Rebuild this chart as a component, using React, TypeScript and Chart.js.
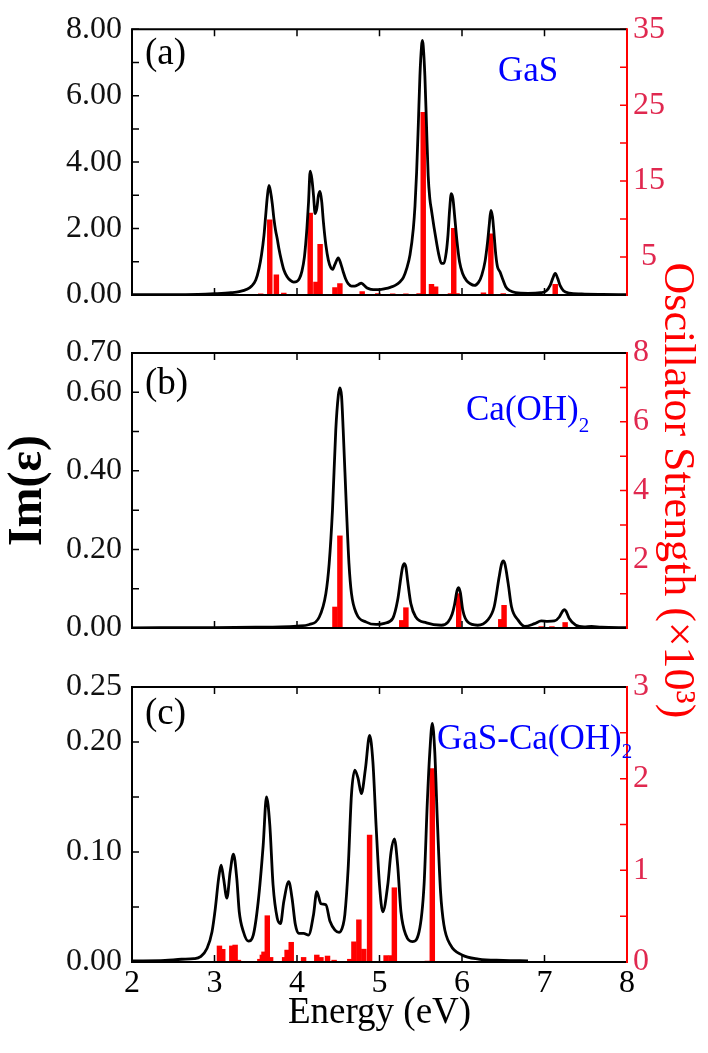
import React, { useEffect, useRef } from 'react';
import { Chart, registerables } from 'chart.js';

Chart.register(...registerables);

const FONT = '"Liberation Serif", "Times New Roman", Times, serif';
const W = 708;
const H = 1053;
const PLOT_LEFT = 132;
const PLOT_RIGHT = 627;

// ---------- shared x axis ----------
const xTickValues = [2, 3, 4, 5, 6, 7, 8];

// ---------- panel (a) GaS ----------
const aEnergy = [
  2.0, 2.5, 2.8, 3.0, 3.2, 3.3, 3.4, 3.45, 3.5, 3.54,
  3.57, 3.6, 3.62, 3.64, 3.66, 3.68, 3.7, 3.72, 3.74, 3.76,
  3.78, 3.81, 3.84, 3.88, 3.92, 3.96, 4.0, 4.03, 4.06, 4.09,
  4.12, 4.14, 4.16, 4.18, 4.2, 4.22, 4.24, 4.26, 4.28, 4.3,
  4.32, 4.35, 4.38, 4.41, 4.43, 4.46, 4.5, 4.53, 4.56, 4.59,
  4.62, 4.66, 4.7, 4.74, 4.78, 4.81, 4.85, 4.9, 4.95, 5.0,
  5.07, 5.13, 5.19, 5.25, 5.29, 5.33, 5.37, 5.41, 5.43, 5.45,
  5.47, 5.49, 5.51, 5.52, 5.53, 5.55, 5.57, 5.59, 5.61, 5.63,
  5.66, 5.69, 5.72, 5.75, 5.78, 5.81, 5.83, 5.85, 5.87, 5.89,
  5.91, 5.94, 5.97, 6.01, 6.05, 6.1, 6.15, 6.2, 6.24, 6.28,
  6.31, 6.33, 6.35, 6.37, 6.39, 6.41, 6.43, 6.46, 6.49, 6.53,
  6.58, 6.65, 6.8, 6.95, 7.02, 7.07, 7.1, 7.13, 7.16, 7.19,
  7.23, 7.3, 7.45, 7.7, 8.0,
];
const aImEps = [
  0.01, 0.01, 0.02, 0.04, 0.07, 0.1, 0.18, 0.27, 0.45, 0.8,
  1.21, 1.8, 2.38, 2.95, 3.3, 3.1, 2.76, 2.3, 1.95, 1.7,
  1.41, 1.05, 0.76, 0.55, 0.44, 0.39, 0.41, 0.5, 0.72, 1.15,
  2.0, 2.8, 3.73, 3.5, 3.0, 2.45, 2.6, 3.0, 3.12, 2.8,
  2.2, 1.5, 1.05, 0.82, 0.77, 0.92, 1.12, 0.95, 0.7, 0.48,
  0.34, 0.27, 0.27, 0.31, 0.36, 0.3, 0.21, 0.17, 0.16, 0.16,
  0.19, 0.23, 0.29, 0.4, 0.53, 0.8, 1.21, 2.0, 2.67, 3.7,
  5.09, 6.6, 7.5, 7.66, 7.5, 6.6, 5.09, 3.6, 2.9, 2.55,
  2.05, 1.6, 1.2, 0.95, 0.95, 1.3, 1.8, 2.57, 3.05, 2.9,
  2.4, 1.6, 1.0, 0.63, 0.45, 0.34, 0.29, 0.38, 0.6, 1.02,
  1.6, 2.1, 2.55, 2.35, 1.79, 1.2, 0.85, 0.7, 0.5, 0.25,
  0.13, 0.07, 0.05, 0.07, 0.12, 0.3, 0.5, 0.65, 0.5, 0.28,
  0.13, 0.06, 0.03, 0.015, 0.01,
];
const aBarEnergy = [3.56, 3.67, 3.75, 3.84, 4.16, 4.23, 4.28, 4.46, 4.52, 4.79, 4.98, 5.16, 5.32, 5.48, 5.53, 5.63, 5.68, 5.86, 5.9, 5.94, 6.26, 6.35, 6.5, 7.13];
const aOsc = [0.15, 9.9, 2.67, 0.25, 10.8, 1.7, 6.66, 0.98, 1.49, 0.45, 0.2, 0.15, 0.15, 0.2, 24.05, 1.4, 1.06, 0.2, 8.78, 0.2, 0.3, 8.06, 0.2, 1.4];
const aLeftLabels = [0, 2, 4, 6, 8];
const aRightLabels = [5, 15, 25, 35];

// ---------- panel (b) Ca(OH)2 ----------
const bEnergy = [
  2.0, 3.0, 3.5, 3.8, 4.0, 4.15, 4.27, 4.35, 4.39, 4.43,
  4.47, 4.5, 4.52, 4.54, 4.56, 4.6, 4.63, 4.66, 4.72, 4.84,
  4.96, 5.06, 5.16, 5.22, 5.26, 5.28, 5.3, 5.32, 5.34, 5.38,
  5.44, 5.57, 5.75, 5.83, 5.88, 5.91, 5.94, 5.96, 5.98, 6.01,
  6.07, 6.19, 6.31, 6.39, 6.45, 6.48, 6.5, 6.52, 6.56, 6.6,
  6.68, 6.76, 6.88, 6.96, 7.04, 7.12, 7.18, 7.22, 7.24, 7.26,
  7.3, 7.38, 7.48, 7.57, 7.69, 8.0,
];
const bImEps = [
  0.0005, 0.001, 0.002, 0.003, 0.005, 0.009, 0.028, 0.088, 0.164, 0.3,
  0.504, 0.59, 0.611, 0.59, 0.504, 0.3, 0.164, 0.088, 0.037, 0.015,
  0.009, 0.012, 0.024, 0.071, 0.13, 0.155, 0.164, 0.155, 0.122, 0.062,
  0.028, 0.013, 0.007, 0.015, 0.035, 0.06, 0.095, 0.103, 0.09, 0.045,
  0.015, 0.007, 0.02, 0.054, 0.13, 0.163, 0.171, 0.163, 0.113, 0.054,
  0.02, 0.004, 0.011, 0.018, 0.017, 0.018, 0.028, 0.043, 0.047, 0.043,
  0.024, 0.007, 0.003, 0.004, 0.002, 0.001,
];
const bBarEnergy = [4.46, 4.52, 5.27, 5.32, 5.96, 6.47, 6.51, 6.96, 7.09, 7.25];
const bOsc = [0.61, 2.68, 0.22, 0.59, 1.0, 0.25, 0.66, 0.04, 0.04, 0.16];
const bLeftLabels = [0, 0.2, 0.4, 0.6, 0.7];
const bRightLabels = [2, 4, 6, 8];

// ---------- panel (c) GaS-Ca(OH)2 ----------
const cEnergy = [
  2.0, 2.4, 2.6, 2.75, 2.83, 2.91, 2.97, 3.01, 3.05, 3.08,
  3.11, 3.15, 3.19, 3.23, 3.27, 3.3, 3.35, 3.41, 3.47, 3.53,
  3.59, 3.63, 3.67, 3.71, 3.76, 3.8, 3.84, 3.9, 3.94, 3.98,
  4.02, 4.08, 4.14, 4.2, 4.24, 4.29, 4.35, 4.4, 4.46, 4.51,
  4.56, 4.58, 4.62, 4.66, 4.7, 4.74, 4.78, 4.83, 4.88, 4.92,
  4.96, 5.0, 5.04, 5.1, 5.14, 5.18, 5.22, 5.26, 5.32, 5.4,
  5.48, 5.54, 5.58, 5.61, 5.64, 5.67, 5.7, 5.74, 5.78, 5.86,
  6.0, 6.2, 6.5, 6.8,
];
const cImEps = [
  0.001, 0.0015, 0.0025, 0.003, 0.0048, 0.0125, 0.0276, 0.0488, 0.076, 0.088,
  0.076, 0.058, 0.082, 0.098, 0.076, 0.0457, 0.0276, 0.019, 0.0245, 0.055,
  0.106, 0.15, 0.125, 0.07, 0.04, 0.035, 0.055, 0.073, 0.058, 0.034,
  0.026, 0.026, 0.0245, 0.043, 0.064, 0.053, 0.052, 0.037, 0.029, 0.027,
  0.034, 0.043, 0.085, 0.152, 0.1745, 0.167, 0.153, 0.176, 0.206, 0.182,
  0.122, 0.07, 0.0457, 0.07, 0.1, 0.112, 0.088, 0.0457, 0.0245, 0.0185,
  0.0276, 0.07, 0.146, 0.191, 0.217, 0.191, 0.131, 0.064, 0.034, 0.0155,
  0.0064, 0.0027, 0.0015, 0.001,
];
const cBarEnergy = [3.06, 3.1, 3.21, 3.25, 3.29, 3.55, 3.58, 3.6, 3.64, 3.68, 3.85, 3.88, 3.93, 4.08, 4.24, 4.29, 4.37, 4.45, 4.64, 4.69, 4.75, 4.81, 4.88, 5.08, 5.14, 5.18, 5.58, 5.64];
const cOsc = [0.175, 0.138, 0.175, 0.185, 0.02, 0.03, 0.076, 0.11, 0.505, 0.05, 0.05, 0.13, 0.215, 0.05, 0.076, 0.05, 0.065, 0.02, 0.03, 0.22, 0.46, 0.14, 1.385, 0.07, 0.07, 0.81, 0.01, 2.11];
const cLeftLabels = [0, 0.1, 0.2, 0.25];
const cRightLabels = [0, 1, 2, 3];

type Panel = {
  energy: number[];
  imEps: number[];
  barE: number[];
  barS: number[];
  leftMax: number;
  leftStep: number;
  leftLabels: number[];
  rightMax: number;
  rightStep: number;
  rightLabels: number[];
  top: number;
  bottom: number;
  showX: boolean;
  titles: boolean;
  tag: string;
  tagBaseline: number;
  name: string;
  nameSub: string;
  nameX: number;
  nameBaseline: number;
  subBaseline: number;
};

const panels: Panel[] = [
  {
    energy: aEnergy, imEps: aImEps, barE: aBarEnergy, barS: aOsc,
    leftMax: 8, leftStep: 1, leftLabels: aLeftLabels,
    rightMax: 35, rightStep: 5, rightLabels: aRightLabels,
    top: 20, bottom: 295, showX: false, titles: false,
    tag: '(a)', tagBaseline: 64, name: 'GaS', nameSub: '', nameX: 498, nameBaseline: 81, subBaseline: 81,
  },
  {
    energy: bEnergy, imEps: bImEps, barE: bBarEnergy, barS: bOsc,
    leftMax: 0.7, leftStep: 0.1, leftLabels: bLeftLabels,
    rightMax: 8, rightStep: 1, rightLabels: bRightLabels,
    top: 353, bottom: 628, showX: false, titles: true,
    tag: '(b)', tagBaseline: 394, name: 'Ca(OH)', nameSub: '2', nameX: 466, nameBaseline: 420, subBaseline: 432,
  },
  {
    energy: cEnergy, imEps: cImEps, barE: cBarEnergy, barS: cOsc,
    leftMax: 0.25, leftStep: 0.05, leftLabels: cLeftLabels,
    rightMax: 3, rightStep: 0.5, rightLabels: cRightLabels,
    top: 687, bottom: 962, showX: true, titles: false,
    tag: '(c)', tagBaseline: 724, name: 'GaS-Ca(OH)', nameSub: '2', nameX: 437, nameBaseline: 749, subBaseline: 758,
  },
];

const PAD_BOTTOM_C = 18;
const hasVal = (arr: number[], v: number) => arr.some((a) => Math.abs(a - v) < 1e-6);

function framePlugin(p: Panel) {
  return {
    id: 'frame' + p.tag,
    afterDraw(chart: any) {
      const { ctx, chartArea, scales } = chart;
      const { left, right, top, bottom } = chartArea;
      const TL = 7;
      ctx.save();
      ctx.lineCap = 'butt';
      // inside tick marks
      ctx.strokeStyle = '#000';
      ctx.lineWidth = 1.5;
      ctx.beginPath();
      for (const t of scales.x.ticks) {
        const px = scales.x.getPixelForValue(t.value);
        ctx.moveTo(px, bottom);
        ctx.lineTo(px, bottom - TL);
        ctx.moveTo(px, top);
        ctx.lineTo(px, top + TL);
      }
      for (const t of scales.y.ticks) {
        const py = scales.y.getPixelForValue(t.value);
        ctx.moveTo(left, py);
        ctx.lineTo(left + TL, py);
      }
      ctx.stroke();
      ctx.strokeStyle = '#ff0000';
      ctx.beginPath();
      for (const t of scales.y2.ticks) {
        const py = scales.y2.getPixelForValue(t.value);
        ctx.moveTo(right, py);
        ctx.lineTo(right - TL, py);
      }
      ctx.stroke();
      // frame
      ctx.lineWidth = 2;
      ctx.strokeStyle = '#000';
      ctx.beginPath();
      ctx.moveTo(right, top);
      ctx.lineTo(left, top);
      ctx.lineTo(left, bottom);
      ctx.lineTo(right, bottom);
      ctx.stroke();
      ctx.strokeStyle = '#ff0000';
      ctx.beginPath();
      ctx.moveTo(right, top - 1);
      ctx.lineTo(right, bottom + 1);
      ctx.stroke();
      // panel tag
      ctx.textAlign = 'left';
      ctx.textBaseline = 'alphabetic';
      ctx.fillStyle = '#000';
      ctx.font = `37px ${FONT}`;
      ctx.fillText(p.tag, 145, p.tagBaseline);
      // compound name
      ctx.fillStyle = '#0000ff';
      ctx.font = `35px ${FONT}`;
      ctx.fillText(p.name, p.nameX, p.nameBaseline);
      if (p.nameSub) {
        const w = ctx.measureText(p.name).width;
        ctx.font = `21px ${FONT}`;
        ctx.fillText(p.nameSub, p.nameX + w, p.subBaseline);
      }
      ctx.restore();
    },
  };
}

function makeChart(canvas: HTMLCanvasElement, p: Panel) {
  const tickFont = { family: FONT, size: 32 };
  return new Chart(canvas, {
    type: 'line',
    data: {
      datasets: [
        {
          type: 'line',
          data: p.energy.map((e, i) => ({ x: e, y: p.imEps[i] })),
          borderColor: '#000',
          borderWidth: 2.8,
          pointRadius: 0,
          tension: 0.4,
          cubicInterpolationMode: 'monotone',
          yAxisID: 'y',
          order: 0,
        } as any,
        {
          type: 'bar',
          data: p.barE.map((e, i) => ({ x: e, y: p.barS[i] })),
          backgroundColor: '#ff0000',
          borderWidth: 0,
          barThickness: 4.8,
          yAxisID: 'y2',
          order: 1,
        } as any,
      ],
    },
    options: {
      responsive: false,
      animation: false,
      events: [],
      layout: {
        padding: {
          top: p.top,
          bottom: p.showX ? PAD_BOTTOM_C : H - p.bottom,
          left: 0,
          right: 0,
        },
      },
      plugins: { legend: { display: false }, tooltip: { enabled: false } },
      scales: {
        x: {
          type: 'linear',
          min: 2,
          max: 8,
          offset: false,
          position: 'bottom',
          ticks: {
            stepSize: 1,
            display: p.showX,
            autoSkip: false,
            maxRotation: 0,
            font: tickFont,
            color: '#000',
            padding: 2,
            callback: (v: any) => (hasVal(xTickValues, Number(v)) ? String(v) : ''),
          },
          grid: { display: false, drawTicks: false, offset: false },
          border: { display: false },
          title: {
            display: p.showX,
            text: 'Energy (eV)',
            color: '#000',
            font: { family: FONT, size: 37 },
            padding: { top: 0, bottom: 0 },
          },
          afterFit: (s: any) => {
            s.height = p.showX ? H - PAD_BOTTOM_C - p.bottom : 0;
          },
        },
        y: {
          type: 'linear',
          position: 'left',
          min: 0,
          max: p.leftMax,
          ticks: {
            stepSize: p.leftStep,
            autoSkip: false,
            font: tickFont,
            color: '#111',
            padding: 10,
            callback: (v: any) => (hasVal(p.leftLabels, Number(v)) ? Number(v).toFixed(2) : ''),
          },
          grid: { display: false, drawTicks: false },
          border: { display: false },
          title: {
            display: p.titles,
            text: 'Im(ε)',
            color: '#000',
            font: { family: FONT, size: 48, weight: 'bold' },
            padding: { top: 0, bottom: 0 },
          },
          afterFit: (s: any) => {
            s.width = PLOT_LEFT;
          },
        },
        y2: {
          type: 'linear',
          position: 'right',
          min: 0,
          max: p.rightMax,
          ticks: {
            stepSize: p.rightStep,
            autoSkip: false,
            font: tickFont,
            color: '#e0284f',
            padding: 6,
            crossAlign: 'center',
            callback: (v: any) => (hasVal(p.rightLabels, Number(v)) ? String(Number(v)) : ''),
          },
          grid: { display: false, drawTicks: false },
          border: { display: false },
          title: {
            display: p.titles,
            text: 'Oscillator Strength (×10³)',
            color: '#ff0000',
            font: { family: FONT, size: 44 },
            padding: { top: 5, bottom: 0 },
          },
          afterFit: (s: any) => {
            s.width = W - PLOT_RIGHT;
          },
        },
      },
    } as any,
    plugins: [framePlugin(p)],
  });
}

export default function App() {
  const r0 = useRef<HTMLCanvasElement>(null);
  const r1 = useRef<HTMLCanvasElement>(null);
  const r2 = useRef<HTMLCanvasElement>(null);

  useEffect(() => {
    const refs = [r0, r1, r2];
    const charts = panels.map((p, i) => makeChart(refs[i].current as HTMLCanvasElement, p));
    return () => charts.forEach((c) => c.destroy());
  }, []);

  const cs: React.CSSProperties = { position: 'absolute', left: 0, top: 0, width: W, height: H };
  return (
    <div style={{ position: 'absolute', left: 0, top: 0, width: W, height: H, background: '#fff', overflow: 'hidden' }}>
      <canvas ref={r0} width={W} height={H} style={cs} />
      <canvas ref={r1} width={W} height={H} style={cs} />
      <canvas ref={r2} width={W} height={H} style={cs} />
    </div>
  );
}
